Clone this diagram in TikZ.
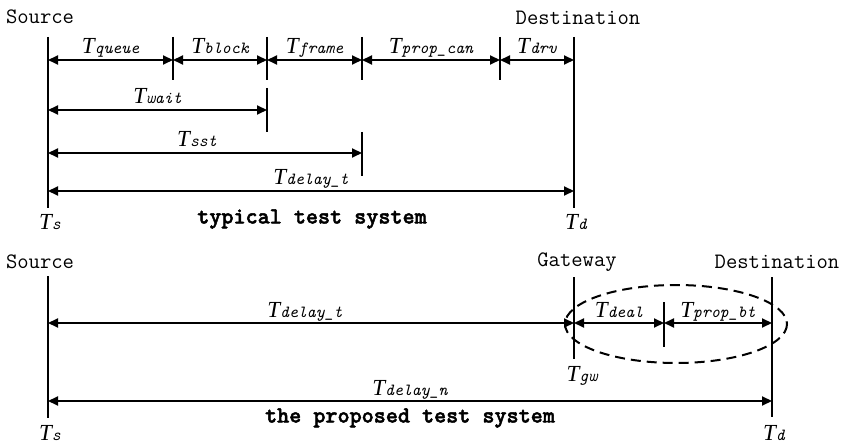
\documentclass[tikz,border=0pt]{standalone}
\usepackage{fontspec}
\setmainfont{Liberation Serif}
\newfontfamily\capfont{lmmonolt10-bold.otf}[FakeBold=2]
\usetikzlibrary{arrows.meta}
\tikzstyle{bar} = [line width=1pt]
\tikzstyle{span} = [line width=1pt,<->,>={Triangle[length=5pt,width=4.5pt]}]
\tikzstyle{lbl} = [anchor=base, yshift=3pt, inner sep=0pt]
\tikzstyle{endpt} = [font=\ttfamily\fontsize{11}{12}\selectfont, inner sep=0pt]
\tikzstyle{tmark} = [inner sep=0pt]
\tikzstyle{caption} = [font=\capfont\fontsize{11.5}{12}\selectfont, inner sep=0pt]
\tikzstyle{zone} = [line width=1pt, dash pattern=on 5pt off 3pt]
% T with an italic typewriter subscript
\newcommand{\tval}[1]{{\fontsize{11.5}{12}\selectfont\itshape T}{\fontsize{8.5}{9}\selectfont\ttfamily\itshape #1}}

\begin{document}
\begin{tikzpicture}[x=0.5pt, y=-0.5pt]
\useasboundingbox (0,0) rectangle (845,443);

% Typical test system
\node[endpt] (src1) at (40,17) {Source};
\node[endpt] (dst1) at (578,18) {Destination};

\draw[bar] (48,37) -- (48,208);
\draw[bar] (574,37) -- (574,208);
\foreach \x in {173,267,362,500} \draw[bar] (\x,37) -- (\x,80);
\draw[bar] (267,88) -- (267,132);
\draw[bar] (362,132) -- (362,176);

\foreach \x [count=\i from 0] in {48,173,267,362,500,574}
  \coordinate (t\i) at (\x,60);
\draw[span] (t0) -- node[lbl] {\tval{queue}} (t1);
\draw[span] (t1) -- node[lbl] {\tval{block}} (t2);
\draw[span] (t2) -- node[lbl] {\tval{frame}} (t3);
\draw[span] (t3) -- node[lbl] {\tval{prop\_can}} (t4);
\draw[span] (t4) -- node[lbl] {\tval{drv}} (t5);

\coordinate (w0) at (48,110);  \coordinate (w1) at (267,110);
\coordinate (s0) at (48,153);  \coordinate (s1) at (362,153);
\coordinate (d0) at (48,191);  \coordinate (d1) at (574,191);
\draw[span] (w0) -- node[lbl] {\tval{wait}} (w1);
\draw[span] (s0) -- node[lbl, xshift=-4pt] {\tval{sst}} (s1);
\draw[span] (d0) -- node[lbl] {\tval{delay\_t}} (d1);

\node[tmark] (ts1) at (50,222) {\tval{s}};
\node[tmark] (td1) at (576,222) {\tval{d}};
\node[caption] (cap1) at (312,219) {typical test system};

% Proposed test system
\node[endpt] (src2) at (40,262) {Source};
\node[endpt] (gw2) at (577,262) {Gateway};
\node[endpt] (dst2) at (777,262) {Destination};

\draw[bar] (48,276) -- (48,418);
\draw[bar] (574,277) -- (574,359);
\draw[bar] (664,302) -- (664,347);
\draw[bar] (772,277) -- (772,417);

\coordinate (b0) at (48,323);
\coordinate (b1) at (574,323);
\coordinate (b2) at (664,323);
\coordinate (b3) at (772,323);
\draw[span] (b0) -- node[lbl, xshift=-3pt] {\tval{delay\_t}} (b1);
\draw[span] (b1) -- node[lbl] {\tval{deal}} (b2);
\draw[span] (b2) -- node[lbl] {\tval{prop\_bt}} (b3);

\draw[zone] (676,324) ellipse [x radius=111, y radius=39];

\coordinate (n0) at (48,401);  \coordinate (n1) at (772,401);
\draw[span] (n0) -- node[lbl] {\tval{delay\_n}} (n1);

\node[tmark] (ts2) at (50,433) {\tval{s}};
\node[tmark] (tgw) at (582,376) {\tval{gw}};
\node[tmark] (td2) at (774,433) {\tval{d}};
\node[caption] (cap2) at (410,418) {the proposed test system};

\end{tikzpicture}
\end{document}
